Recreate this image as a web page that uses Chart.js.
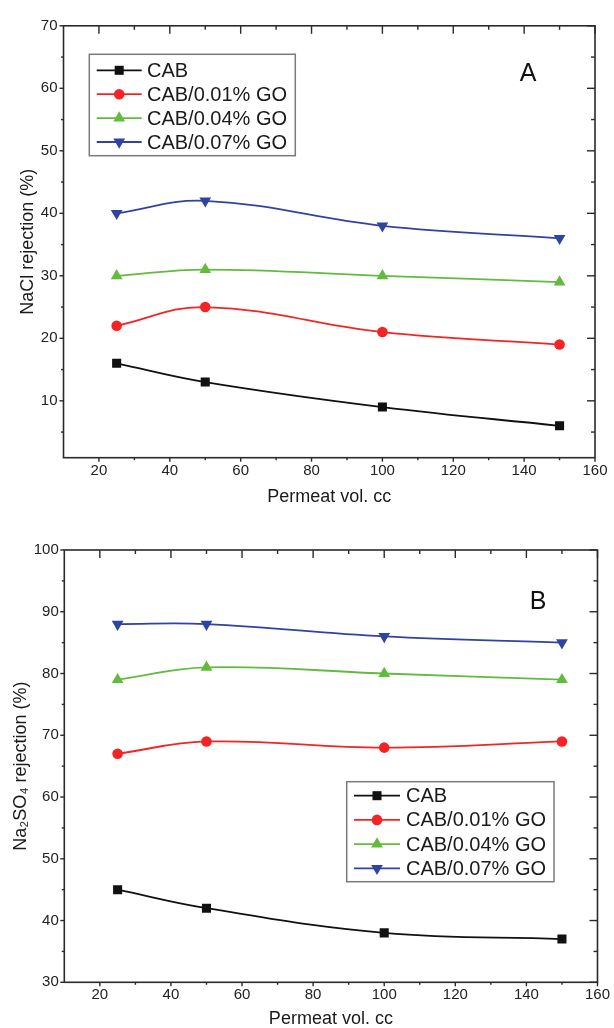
<!DOCTYPE html>
<html>
<head>
<meta charset="utf-8">
<script src="https://cdn.jsdelivr.net/npm/chart.js@4.4.1/dist/chart.umd.min.js"></script>
<style>
html,body{margin:0;padding:0;background:#fff;}
#wrap{position:relative;width:614px;height:1028px;overflow:hidden;}
canvas{position:absolute;left:0;}
#cA{top:0;}
#cB{top:510px;}
</style>
</head>
<body>
<div id="wrap">
<canvas id="cA" width="614" height="510"></canvas>
<canvas id="cB" width="614" height="518"></canvas>
</div>
<script>
// ---- data ----
const permeatVol = [25, 50, 100, 150];
const seriesNames = ['CAB', 'CAB/0.01% GO', 'CAB/0.04% GO', 'CAB/0.07% GO'];

const naclCAB    = [16, 13, 9, 6];
const naclGO001  = [22, 25, 21, 19];
const naclGO004  = [30, 31, 30, 29];
const naclGO007  = [40, 42, 38, 36];

const na2so4CAB   = [45, 42, 38, 37];
const na2so4GO001 = [67, 69, 68, 69];
const na2so4GO004 = [79, 81, 80, 79];
const na2so4GO007 = [88, 88, 86, 85];

const xMajorTicks = [20, 40, 60, 80, 100, 120, 140, 160];
const xMinorTicks = [30, 50, 70, 90, 110, 130, 150];
const yMajorA = [10, 20, 30, 40, 50, 60, 70];
const yMinorA = [5, 15, 25, 35, 45, 55, 65];
const yMajorB = [30, 40, 50, 60, 70, 80, 90, 100];
const yMinorB = [35, 45, 55, 65, 75, 85, 95];

// ---- styles ----
const seriesColors = ['#111111', '#f42424', '#62bb3e', '#2f43a3'];
const seriesPoint = [
  {style: 'rect', radius: 6.4, rotation: 0},
  {style: 'circle', radius: 5.3, rotation: 0},
  {style: 'triangle', radius: 6.8, rotation: 0},
  {style: 'triangle', radius: 6.8, rotation: 180}
];
const FONT = '"Liberation Sans", Arial, Helvetica, sans-serif';

function makeDatasets(valueArrays) {
  return valueArrays.map((vals, i) => ({
    label: seriesNames[i],
    data: permeatVol.map((xv, k) => ({x: xv, y: vals[k]})),
    borderColor: seriesColors[i],
    backgroundColor: seriesColors[i],
    borderWidth: 1.8,
    tension: 0.4,
    pointStyle: seriesPoint[i].style,
    pointRadius: seriesPoint[i].radius,
    pointRotation: seriesPoint[i].rotation,
    pointBorderWidth: 0,
    pointHoverRadius: seriesPoint[i].radius,
    fill: false
  }));
}

const originPlugin = {
  id: 'originFrame',
  afterDatasetsDraw(chart, args, o) {
    const {ctx, chartArea: a} = chart;
    const x = chart.scales.x, y = chart.scales.y;
    ctx.save();
    ctx.strokeStyle = '#2a2a2a';
    ctx.lineWidth = 1.6;
    ctx.strokeRect(a.left, a.top, a.right - a.left, a.bottom - a.top);
    ctx.lineWidth = 1.4;
    const tick = (px, py, dx, dy) => { ctx.beginPath(); ctx.moveTo(px, py); ctx.lineTo(px + dx, py + dy); ctx.stroke(); };
    o.xMajor.forEach(v => { const p = x.getPixelForValue(v); tick(p, a.bottom, 0, 4); tick(p, a.top, 0, 8); });
    o.xMinor.forEach(v => { const p = x.getPixelForValue(v); tick(p, a.bottom, 0, 2.5); tick(p, a.top, 0, 4); });
    o.yMajor.forEach(v => { const p = y.getPixelForValue(v); tick(a.left, p, -4, 0); tick(a.right, p, -8, 0); });
    o.yMinor.forEach(v => { const p = y.getPixelForValue(v); tick(a.left, p, -2.5, 0); tick(a.right, p, -4, 0); });
    ctx.restore();
  },
  afterDraw(chart, args, o) {
    const ctx = chart.ctx;
    const L = o.legend;
    ctx.save();
    ctx.fillStyle = '#ffffff';
    ctx.fillRect(L.left, L.top, L.width, L.height);
    ctx.strokeStyle = '#7a7a7a';
    ctx.lineWidth = 1.5;
    ctx.strokeRect(L.left, L.top, L.width, L.height);
    chart.data.datasets.forEach((ds, i) => {
      const ry = L.top + L.firstRow + i * L.rowStep;
      ctx.strokeStyle = ds.borderColor;
      ctx.lineWidth = 1.8;
      ctx.beginPath();
      ctx.moveTo(L.left + L.lineStart, ry);
      ctx.lineTo(L.left + L.lineEnd, ry);
      ctx.stroke();
      ctx.save();
      ctx.fillStyle = ds.backgroundColor;
      ctx.strokeStyle = ds.borderColor;
      Chart.helpers.drawPoint(ctx, {pointStyle: ds.pointStyle, rotation: ds.pointRotation, borderWidth: 0, radius: ds.pointRadius}, L.left + L.marker, ry);
      ctx.restore();
      ctx.fillStyle = '#1a1a1a';
      ctx.font = L.fontSize + 'px ' + FONT;
      ctx.textAlign = 'left';
      ctx.textBaseline = 'middle';
      ctx.fillText(ds.label, L.left + L.textX, ry + 1);
    });
    ctx.fillStyle = '#111111';
    ctx.font = o.letter.size + 'px ' + FONT;
    ctx.textAlign = 'center';
    ctx.textBaseline = 'middle';
    ctx.fillText(o.letter.text, o.letter.x, o.letter.y);
    ctx.restore();
  }
};

function makeChart(canvasId, valueArrays, cfg) {
  return new Chart(document.getElementById(canvasId), {
    type: 'line',
    data: {datasets: makeDatasets(valueArrays)},
    options: {
      responsive: false,
      animation: false,
      events: [],
      layout: {padding: {top: cfg.top, right: cfg.right, left: 0, bottom: 0}},
      scales: {
        x: {
          type: 'linear',
          min: 10, max: 160,
          afterFit: s => { s.height = cfg.xHeight; },
          afterBuildTicks: s => { s.ticks = xMajorTicks.map(v => ({value: v})); },
          grid: {display: false, drawTicks: false},
          border: {display: false},
          ticks: {
            padding: 4, maxRotation: 0, autoSkip: false, color: '#222222',
            font: {family: FONT, size: 15}
          },
          title: {
            display: true, text: 'Permeat vol. cc', color: '#1a1a1a',
            font: {family: FONT, size: 18, lineHeight: 1},
            padding: {top: 0, bottom: cfg.xTitlePad}
          }
        },
        y: {
          type: 'linear',
          min: cfg.yMin, max: cfg.yMax,
          afterFit: s => { s.width = cfg.yWidth; },
          afterBuildTicks: s => { s.ticks = cfg.yMajor.map(v => ({value: v})); },
          grid: {display: false, drawTicks: false},
          border: {display: false},
          ticks: {
            padding: cfg.yTickPad, autoSkip: false, color: '#222222',
            font: {family: FONT, size: 15}
          },
          title: {
            display: true, text: cfg.yTitle, color: '#1a1a1a',
            font: {family: FONT, size: 18, lineHeight: 1},
            padding: {top: cfg.yTitlePad, bottom: 0}
          }
        }
      },
      plugins: {
        legend: {display: false},
        tooltip: {enabled: false},
        originFrame: {
          xMajor: xMajorTicks, xMinor: xMinorTicks,
          yMajor: cfg.yMajor, yMinor: cfg.yMinor,
          legend: cfg.legend,
          letter: cfg.letter
        }
      }
    },
    plugins: [originPlugin]
  });
}

makeChart('cA', [naclCAB, naclGO001, naclGO004, naclGO007], {
  top: 25.8, right: 19, xHeight: 52.3, yWidth: 63.5,
  yMin: 0.9, yMax: 70, yMajor: yMajorA, yMinor: yMinorA,
  yTitle: 'NaCl rejection (%)', yTitlePad: 19.5, yTickPad: 6, xTitlePad: 4,
  legend: {left: 89.3, top: 54.3, width: 206, height: 101.4, firstRow: 16, rowStep: 23.9,
           lineStart: 7.4, lineEnd: 52.4, marker: 29.9, textX: 57.7, fontSize: 20},
  letter: {text: 'A', x: 528, y: 74.5, size: 25}
});

makeChart('cB', [na2so4CAB, na2so4GO001, na2so4GO004, na2so4GO007], {
  top: 40, right: 14, xHeight: 45.7, yWidth: 64.3,
  yMin: 30, yMax: 100, yMajor: yMajorB, yMinor: yMinorB,
  yTitle: 'Na\u2082SO\u2084 rejection (%)', yTitlePad: 12.5, yTickPad: 5.5, xTitlePad: 0,
  legend: {left: 346.7, top: 271.7, width: 207.3, height: 100, firstRow: 14, rowStep: 24.2,
           lineStart: 7.3, lineEnd: 53.3, marker: 30.3, textX: 59.3, fontSize: 20},
  letter: {text: 'B', x: 538, y: 92, size: 25}
});
</script>
</body>
</html>
